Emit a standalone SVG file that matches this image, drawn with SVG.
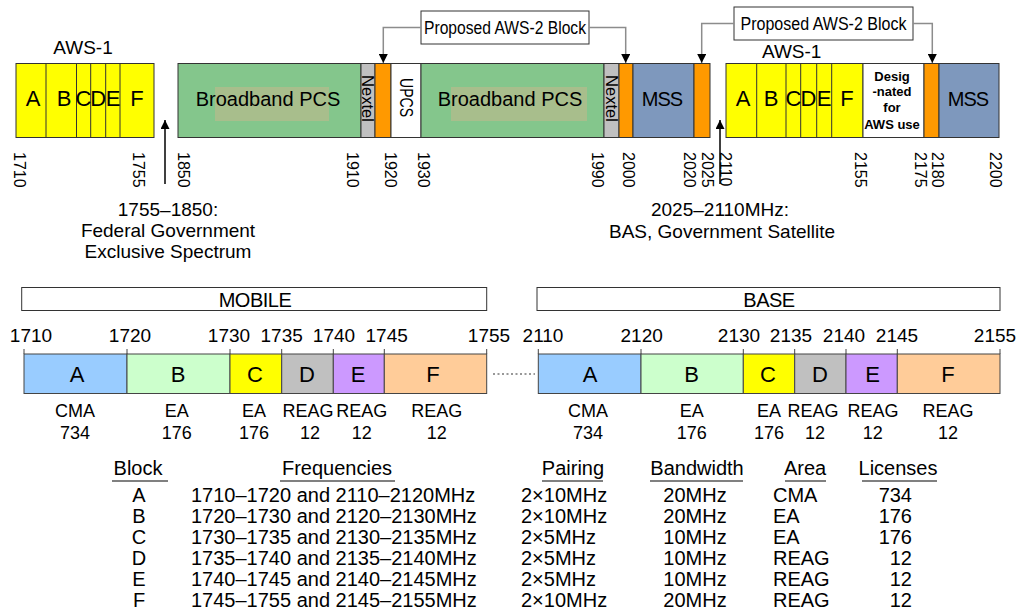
<svg xmlns="http://www.w3.org/2000/svg" width="1024" height="613" viewBox="0 0 1024 613">
<style>
text{font-family:"Liberation Sans",Arial,sans-serif;fill:#000}
.seg{stroke:#333;stroke-width:1}
.y{fill:#ffff00}.g{fill:#84c68c}.o{fill:#ff9900}.gr{fill:#c0c0c0}.w{fill:#fff}.m{fill:#7e98bd}
.tan{fill:#a8be8c}
.tl{font-size:16px}
.big{font-size:20px;text-anchor:middle}
.blk{font-size:22px;text-anchor:middle}
.rot{font-size:16.5px}
.cap{font-size:19px;text-anchor:middle}
.conn{fill:none;stroke:#8c8c8c;stroke-width:1.5}
.arr{fill:none;stroke:#000;stroke-width:1.5}
.pbox{fill:#fff;stroke:#333;stroke-width:1}
.mk{font-size:19px;text-anchor:middle}
.bl{font-size:22px;text-anchor:middle}
.lab{font-size:18px;text-anchor:middle}
.tick{stroke:#444;stroke-width:1}
.hd{font-size:20px;text-anchor:middle}
.ul{stroke:#808080;stroke-width:2}
.row{font-size:20px}
.bar{stroke:#444;stroke-width:1}
</style>
<defs>
<marker id="ah" viewBox="0 0 10 10" refX="10" refY="5" markerWidth="9" markerHeight="9" markerUnits="userSpaceOnUse" orient="auto">
<path d="M0,0 L10,5 L0,10 z" fill="#000"/>
</marker>
</defs>

<g id="top-bar">
<rect class="seg y" x="16" y="63.5" width="138" height="74"/>
<path class="seg" d="M46,63.5V137.5M76.5,63.5V137.5M90.7,63.5V137.5M105.7,63.5V137.5M120,63.5V137.5"/>
<text class="blk" x="33" y="106">A</text>
<text class="blk" x="64" y="106">B</text>
<text class="blk" x="83.5" y="106">C</text>
<text class="blk" x="98.2" y="106">D</text>
<text class="blk" x="113" y="106">E</text>
<text class="blk" x="137" y="106">F</text>
<text class="cap" x="83" y="54">AWS-1</text>

<rect class="seg g" x="178" y="63.5" width="183" height="74"/>
<rect class="tan" x="215" y="87" width="114" height="34"/>
<text class="big" x="268" y="106">Broadband PCS</text>
<rect class="seg gr" x="361" y="63.5" width="14" height="74"/>
<text class="rot" transform="translate(362,75) rotate(90)" textLength="47" lengthAdjust="spacingAndGlyphs">Nextel</text>
<rect class="seg o" x="375" y="63.5" width="16" height="74"/>
<rect class="seg w" x="391" y="63.5" width="30" height="74"/>
<text transform="translate(399.5,78) rotate(90)" font-size="19" textLength="39" lengthAdjust="spacingAndGlyphs">UPCS</text>
<rect class="seg g" x="421" y="63.5" width="183" height="74"/>
<rect class="tan" x="451" y="87" width="136" height="34"/>
<text class="big" x="510" y="106">Broadband PCS</text>
<rect class="seg gr" x="604" y="63.5" width="15" height="74"/>
<text class="rot" transform="translate(605.5,75) rotate(90)" textLength="47" lengthAdjust="spacingAndGlyphs">Nextel</text>
<rect class="seg o" x="619" y="63.5" width="14" height="74"/>
<rect class="seg m" x="633" y="63.5" width="61" height="74"/>
<text class="big" x="662" y="106" letter-spacing="-1">MSS</text>
<rect class="seg o" x="694" y="63.5" width="16" height="74"/>

<rect class="seg y" x="726" y="63.5" width="137" height="74"/>
<path class="seg" d="M756.7,63.5V137.5M786,63.5V137.5M800.7,63.5V137.5M816.7,63.5V137.5M831.7,63.5V137.5"/>
<text class="blk" x="743" y="106">A</text>
<text class="blk" x="771" y="106">B</text>
<text class="blk" x="793.5" y="106">C</text>
<text class="blk" x="808.5" y="106">D</text>
<text class="blk" x="824" y="106">E</text>
<text class="blk" x="847" y="106">F</text>
<text class="cap" x="791.7" y="58">AWS-1</text>
<rect class="seg w" x="863" y="63.5" width="61" height="74"/>
<g font-size="13" font-weight="bold" text-anchor="middle">
<text x="892" y="81">Desig</text>
<text x="892" y="96">-nated</text>
<text x="892" y="112">for</text>
<text x="892" y="129">AWS use</text>
</g>
<rect class="seg o" x="924" y="63.5" width="15" height="74"/>
<rect class="seg m" x="939" y="63.5" width="60" height="74"/>
<text class="big" x="968" y="106" letter-spacing="-1">MSS</text>
</g>

<g id="top-ticks" class="tl">
<text transform="translate(13.5,152) rotate(90)">1710</text>
<text transform="translate(132.5,152) rotate(90)">1755</text>
<text transform="translate(177.5,152) rotate(90)">1850</text>
<text transform="translate(346.5,152) rotate(90)">1910</text>
<text transform="translate(384.5,152) rotate(90)">1920</text>
<text transform="translate(417.5,152) rotate(90)">1930</text>
<text transform="translate(591.5,152) rotate(90)">1990</text>
<text transform="translate(622.5,152) rotate(90)">2000</text>
<text transform="translate(683.5,152) rotate(90)">2020</text>
<text transform="translate(701.5,152) rotate(90)">2025</text>
<text transform="translate(719.5,152) rotate(90)">2110</text>
<text transform="translate(854.5,152) rotate(90)">2155</text>
<text transform="translate(914.5,152) rotate(90)">2175</text>
<text transform="translate(931.5,152) rotate(90)">2180</text>
<text transform="translate(989.5,152) rotate(90)">2200</text>
</g>

<g id="proposed-1">
<rect class="pbox" x="421" y="11" width="168" height="33"/>
<text x="505" y="34" font-size="18" text-anchor="middle" textLength="162" lengthAdjust="spacingAndGlyphs">Proposed AWS-2 Block</text>
</g>
<g id="proposed-2">
<rect class="pbox" x="734" y="7" width="179" height="33"/>
<text x="823.5" y="30" font-size="18" text-anchor="middle" textLength="166" lengthAdjust="spacingAndGlyphs">Proposed AWS-2 Block</text>
</g>

<g id="gap-notes">
<text class="cap" x="168" y="216">1755–1850:</text>
<text class="cap" x="168" y="237">Federal Government</text>
<text class="cap" x="168" y="258">Exclusive Spectrum</text>
<text class="cap" x="720" y="216">2025–2110MHz:</text>
<text class="cap" x="722" y="238">BAS, Government Satellite</text>
</g>

<g id="connectors">
<path class="conn" d="M421,27.5H383.3V63" marker-end="url(#ah)"/>
<path class="conn" d="M589,27.5H625.7V63" marker-end="url(#ah)"/>
<path class="conn" d="M734,23.5H701.7V63" marker-end="url(#ah)"/>
<path class="conn" d="M913,23.5H932.3V63" marker-end="url(#ah)"/>
<path class="arr" d="M165,184V120" marker-end="url(#ah)"/>
<path class="arr" d="M720,184V120" marker-end="url(#ah)"/>
<path d="M493,374H535" stroke="#333" stroke-width="1.2" stroke-dasharray="2,2.5" fill="none"/>
</g>

<g id="mobile">
<rect class="pbox" x="21.7" y="287.5" width="465" height="23"/>
<text class="hd" x="255" y="306.5" letter-spacing="-0.5">MOBILE</text>
<g class="mk">
<text x="31" y="342">1710</text><text x="130" y="342">1720</text><text x="229" y="342">1730</text>
<text x="281.7" y="342">1735</text><text x="334" y="342">1740</text><text x="386.7" y="342">1745</text><text x="489" y="342">1755</text>
</g>
<path class="tick" d="M24,349V354M127,349V354M230,349V354M281.7,349V354M333.3,349V354M384.3,349V354M486.7,349V354"/>
<rect class="bar" x="24" y="354" width="103" height="39.5" fill="#99ccff"/>
<rect class="bar" x="127" y="354" width="103" height="39.5" fill="#ccffcc"/>
<rect class="bar" x="230" y="354" width="51.7" height="39.5" fill="#ffff00"/>
<rect class="bar" x="281.7" y="354" width="51.6" height="39.5" fill="#c0c0c0"/>
<rect class="bar" x="333.3" y="354" width="51" height="39.5" fill="#cc99ff"/>
<rect class="bar" x="384.3" y="354" width="102.4" height="39.5" fill="#ffcc99"/>
<g class="bl">
<text x="77" y="382">A</text><text x="178" y="382">B</text><text x="255" y="382">C</text>
<text x="307" y="382">D</text><text x="358" y="382">E</text><text x="433" y="382">F</text>
</g>
<g class="lab">
<text x="75" y="417">CMA</text><text x="176.7" y="417">EA</text><text x="254" y="417">EA</text>
<text x="308" y="417">REAG</text><text x="361.7" y="417">REAG</text><text x="436.7" y="417">REAG</text>
<text x="75" y="439">734</text><text x="176.7" y="439">176</text><text x="254" y="439">176</text>
<text x="310" y="439">12</text><text x="361.7" y="439">12</text><text x="436.7" y="439">12</text>
</g>
</g>

<g id="base">
<rect class="pbox" x="537" y="287.5" width="463" height="23"/>
<text class="hd" x="769" y="306.5" letter-spacing="-0.5">BASE</text>
<g class="mk">
<text x="543" y="342">2110</text><text x="641.7" y="342">2120</text><text x="739" y="342">2130</text>
<text x="791" y="342">2135</text><text x="844" y="342">2140</text><text x="897" y="342">2145</text><text x="995" y="342">2155</text>
</g>
<path class="tick" d="M538.3,349V354M641,349V354M743.3,349V354M794.7,349V354M846,349V354M897.3,349V354M1000,349V354"/>
<rect class="bar" x="538.3" y="354" width="102.7" height="39.5" fill="#99ccff"/>
<rect class="bar" x="641" y="354" width="102.3" height="39.5" fill="#ccffcc"/>
<rect class="bar" x="743.3" y="354" width="51.4" height="39.5" fill="#ffff00"/>
<rect class="bar" x="794.7" y="354" width="51.3" height="39.5" fill="#c0c0c0"/>
<rect class="bar" x="846" y="354" width="51.3" height="39.5" fill="#cc99ff"/>
<rect class="bar" x="897.3" y="354" width="102.7" height="39.5" fill="#ffcc99"/>
<g class="bl">
<text x="590" y="382">A</text><text x="691.7" y="382">B</text><text x="768" y="382">C</text>
<text x="820" y="382">D</text><text x="872.7" y="382">E</text><text x="948" y="382">F</text>
</g>
<g class="lab">
<text x="588" y="417">CMA</text><text x="691.7" y="417">EA</text><text x="769" y="417">EA</text>
<text x="813" y="417">REAG</text><text x="873" y="417">REAG</text><text x="948" y="417">REAG</text>
<text x="588" y="439">734</text><text x="691.7" y="439">176</text><text x="769" y="439">176</text>
<text x="815" y="439">12</text><text x="872.7" y="439">12</text><text x="948" y="439">12</text>
</g>
</g>

<g id="table">
<g class="hd">
<text x="138" y="475">Block</text>
<text x="337" y="475">Frequencies</text>
<text x="573" y="475">Pairing</text>
<text x="697" y="475">Bandwidth</text>
<text x="805" y="475">Area</text>
<text x="898" y="475">Licenses</text>
</g>
<path class="ul" d="M112,481H168M280,481H395M542,481H603M650,481H743M785,481H826M862,481H937"/>
<g class="row" text-anchor="middle">
<text x="139" y="502">A</text><text x="139" y="523">B</text><text x="139" y="544">C</text>
<text x="139" y="565">D</text><text x="139" y="586">E</text><text x="139" y="607">F</text>
</g>
<g class="row">
<text x="191" y="502">1710–1720 and 2110–2120MHz</text>
<text x="191" y="523">1720–1730 and 2120–2130MHz</text>
<text x="191" y="544">1730–1735 and 2130–2135MHz</text>
<text x="191" y="565">1735–1740 and 2135–2140MHz</text>
<text x="191" y="586">1740–1745 and 2140–2145MHz</text>
<text x="191" y="607">1745–1755 and 2145–2155MHz</text>
</g>
<g class="row">
<text x="521" y="502">2×10MHz</text><text x="521" y="523">2×10MHz</text><text x="521" y="544">2×5MHz</text>
<text x="521" y="565">2×5MHz</text><text x="521" y="586">2×5MHz</text><text x="521" y="607">2×10MHz</text>
</g>
<g class="row" text-anchor="middle">
<text x="695" y="502">20MHz</text><text x="695" y="523">20MHz</text><text x="695" y="544">10MHz</text>
<text x="695" y="565">10MHz</text><text x="695" y="586">10MHz</text><text x="695" y="607">20MHz</text>
</g>
<g class="row">
<text x="773" y="502">CMA</text><text x="773" y="523">EA</text><text x="773" y="544">EA</text>
<text x="773" y="565">REAG</text><text x="773" y="586">REAG</text><text x="773" y="607">REAG</text>
</g>
<g class="row" text-anchor="end">
<text x="912" y="502">734</text><text x="912" y="523">176</text><text x="912" y="544">176</text>
<text x="912" y="565">12</text><text x="912" y="586">12</text><text x="912" y="607">12</text>
</g>
</g>
</svg>
